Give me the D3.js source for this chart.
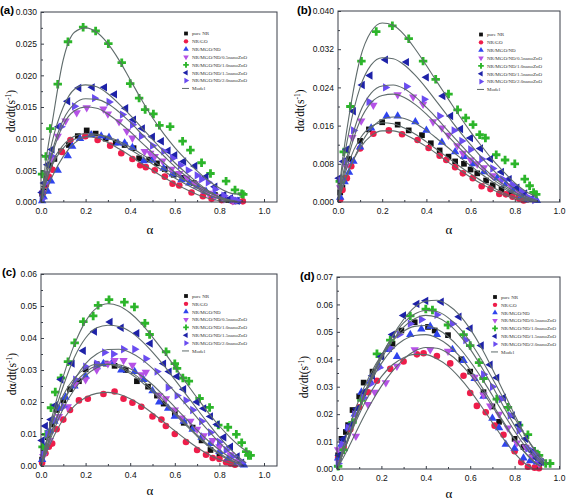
<!DOCTYPE html>
<html><head><meta charset="utf-8">
<script src="https://cdn.jsdelivr.net/npm/d3@7"></script>
<style>body{margin:0;background:#fff}svg{display:block}</style>
</head><body>
<script>
const seriesNames = ["pure NR","NR/GO","NR/MGO/ND","NR/MGO/ND/0.5nanoZnO","NR/MGO/ND/1.0nanoZnO","NR/MGO/ND/1.5nanoZnO","NR/MGO/ND/2.0nanoZnO"];
const xTicks = [0,0.2,0.4,0.6,0.8,1.0];
const aYTicks = [0,0.005,0.010,0.015,0.020,0.025,0.030];
const bYTicks = [0,0.008,0.016,0.024,0.032,0.040];
const cYTicks = [0,0.01,0.02,0.03,0.04,0.05,0.06];
const dYTicks = [0,0.01,0.02,0.03,0.04,0.05,0.06,0.07];

// ---------- panel (a) ----------
const aPoints = [
 [[0.005,0.0013],[0.012,0.0017],[0.025,0.0038],[0.04,0.0058],[0.06,0.0068],[0.09,0.0080],[0.125,0.0090],[0.165,0.0104],[0.205,0.0113],[0.245,0.0108],[0.29,0.0100],[0.335,0.0094],[0.375,0.0090],[0.415,0.0085],[0.44,0.0069],[0.485,0.0067],[0.52,0.0061],[0.555,0.0052],[0.595,0.0043],[0.635,0.0038],[0.685,0.0030],[0.73,0.0017],[0.78,0.0011],[0.81,0.0007],[0.84,0.0003],[0.87,0.0001]],
 [[0.008,0.0014],[0.022,0.0027],[0.035,0.0040],[0.052,0.0051],[0.094,0.0079],[0.132,0.0098],[0.199,0.0104],[0.254,0.0098],[0.31,0.0089],[0.36,0.0077],[0.41,0.0068],[0.445,0.0058],[0.47,0.0055],[0.51,0.0050],[0.555,0.0040],[0.59,0.0029],[0.62,0.0026],[0.675,0.0015],[0.726,0.0009],[0.765,0.0005],[0.81,0.0003],[0.86,0.0001],[0.905,0.0001]],
 [[0.005,0.0002],[0.012,0.0008],[0.03,0.0017],[0.045,0.0033],[0.075,0.0050],[0.12,0.0073],[0.14,0.0088],[0.175,0.0100],[0.225,0.0106],[0.27,0.0104],[0.305,0.0102],[0.345,0.0093],[0.375,0.0093],[0.41,0.0086],[0.46,0.0065],[0.5,0.0066],[0.55,0.0053],[0.59,0.0044],[0.63,0.0035],[0.665,0.0030],[0.7,0.0025],[0.74,0.0017],[0.78,0.0010],[0.82,0.0006],[0.86,0.0002],[0.88,0.0001]],
 [[0.01,0.0015],[0.025,0.0045],[0.05,0.0068],[0.075,0.0104],[0.11,0.0128],[0.16,0.0141],[0.205,0.0149],[0.28,0.0147],[0.3,0.0139],[0.35,0.0127],[0.385,0.0112],[0.41,0.0101],[0.465,0.0080],[0.49,0.0077],[0.51,0.0072],[0.545,0.0065],[0.585,0.0052],[0.62,0.0045],[0.655,0.0038],[0.69,0.0029],[0.72,0.0020],[0.75,0.0014],[0.78,0.0009],[0.82,0.0005],[0.86,0.0002]],
 [[0.005,0.0044],[0.022,0.0072],[0.042,0.0116],[0.075,0.0186],[0.121,0.0253],[0.189,0.0276],[0.245,0.0270],[0.302,0.0250],[0.362,0.0220],[0.40,0.0187],[0.44,0.0164],[0.467,0.0146],[0.504,0.0139],[0.531,0.0121],[0.579,0.0119],[0.635,0.0096],[0.67,0.0082],[0.72,0.0062],[0.76,0.0045],[0.83,0.0033],[0.87,0.0019],[0.9,0.0013],[0.907,0.0012]],
 [[0.005,0.0015],[0.015,0.0030],[0.03,0.0059],[0.05,0.0083],[0.08,0.0119],[0.12,0.0159],[0.17,0.0180],[0.23,0.0181],[0.285,0.0181],[0.33,0.0170],[0.38,0.0148],[0.415,0.0130],[0.455,0.0116],[0.5,0.0103],[0.54,0.0096],[0.57,0.0081],[0.6,0.0074],[0.64,0.0064],[0.69,0.0057],[0.74,0.0040],[0.78,0.0024],[0.82,0.0011],[0.85,0.0006],[0.88,0.0002]],
 [[0.005,0.0005],[0.02,0.0030],[0.045,0.0073],[0.09,0.0119],[0.15,0.0151],[0.24,0.0164],[0.305,0.0158],[0.365,0.0138],[0.41,0.0122],[0.45,0.0104],[0.5,0.0089],[0.55,0.0080],[0.59,0.0069],[0.625,0.0058],[0.66,0.0050],[0.7,0.0042],[0.72,0.0036],[0.75,0.0031],[0.78,0.0020],[0.82,0.0010],[0.86,0.0005],[0.88,0.0002]]
];
const aModel = [
 [[0,0],[0.02,0.0030],[0.05,0.0062],[0.1,0.0090],[0.15,0.0104],[0.2,0.0108],[0.25,0.0107],[0.3,0.0101],[0.35,0.0093],[0.4,0.0083],[0.45,0.0072],[0.5,0.0060],[0.55,0.0049],[0.6,0.0038],[0.65,0.0028],[0.7,0.0019],[0.75,0.0011],[0.8,0.0005],[0.85,0.0001]],
 [[0,0],[0.02,0.0028],[0.05,0.0058],[0.1,0.0085],[0.15,0.0099],[0.2,0.0103],[0.25,0.0101],[0.3,0.0094],[0.35,0.0084],[0.4,0.0073],[0.45,0.0061],[0.5,0.0050],[0.55,0.0039],[0.6,0.0029],[0.65,0.0020],[0.7,0.0012],[0.75,0.0006],[0.8,0.0002],[0.84,0.0000]],
 [[0,0],[0.02,0.0015],[0.05,0.0040],[0.1,0.0072],[0.15,0.0093],[0.2,0.0103],[0.25,0.0106],[0.3,0.0103],[0.35,0.0096],[0.4,0.0087],[0.45,0.0076],[0.5,0.0065],[0.55,0.0054],[0.6,0.0043],[0.65,0.0033],[0.7,0.0024],[0.75,0.0015],[0.8,0.0008],[0.85,0.0003],[0.88,0.0001]],
 [[0,0],[0.02,0.0035],[0.05,0.0075],[0.1,0.0122],[0.15,0.0144],[0.2,0.0150],[0.25,0.0148],[0.3,0.0139],[0.35,0.0126],[0.4,0.0111],[0.45,0.0094],[0.5,0.0078],[0.55,0.0062],[0.6,0.0047],[0.65,0.0034],[0.7,0.0022],[0.75,0.0012],[0.8,0.0005],[0.85,0.0001]],
 [[0,0],[0.02,0.0060],[0.05,0.0125],[0.1,0.0225],[0.15,0.0268],[0.2,0.0275],[0.25,0.0268],[0.3,0.0250],[0.35,0.0224],[0.4,0.0193],[0.45,0.0162],[0.5,0.0133],[0.55,0.0108],[0.6,0.0086],[0.65,0.0067],[0.7,0.0049],[0.75,0.0034],[0.8,0.0022],[0.85,0.0014],[0.9,0.0012]],
 [[0,0],[0.02,0.0045],[0.05,0.0095],[0.1,0.0150],[0.15,0.0178],[0.2,0.0185],[0.25,0.0182],[0.3,0.0171],[0.35,0.0155],[0.4,0.0137],[0.45,0.0118],[0.5,0.0099],[0.55,0.0080],[0.6,0.0062],[0.65,0.0046],[0.7,0.0031],[0.75,0.0018],[0.8,0.0008],[0.85,0.0002],[0.88,0.0000]],
 [[0,0],[0.02,0.0037],[0.05,0.0080],[0.1,0.0130],[0.15,0.0155],[0.2,0.0163],[0.25,0.0162],[0.3,0.0155],[0.35,0.0142],[0.4,0.0126],[0.45,0.0108],[0.5,0.0090],[0.55,0.0073],[0.6,0.0056],[0.65,0.0041],[0.7,0.0028],[0.75,0.0017],[0.8,0.0008],[0.85,0.0002],[0.88,0.0000]]
];

// ---------- panel (b) ----------
const bPoints = [
 [[0.01,0.0020],[0.02,0.0030],[0.035,0.0050],[0.05,0.0090],[0.1,0.0128],[0.14,0.0152],[0.2,0.0167],[0.27,0.0162],[0.32,0.0150],[0.38,0.0140],[0.42,0.0123],[0.46,0.0108],[0.5,0.0095],[0.53,0.0085],[0.57,0.0080],[0.6,0.0068],[0.63,0.0060],[0.67,0.0045],[0.7,0.0035],[0.74,0.0027],[0.78,0.0018],[0.82,0.0010],[0.85,0.0005]],
 [[0.01,0.0005],[0.02,0.0025],[0.04,0.0050],[0.06,0.0075],[0.1,0.0112],[0.16,0.0143],[0.23,0.0150],[0.29,0.0142],[0.36,0.0130],[0.41,0.0113],[0.46,0.0097],[0.49,0.0088],[0.53,0.0073],[0.565,0.0060],[0.61,0.0050],[0.65,0.0033],[0.69,0.0027],[0.73,0.0017],[0.76,0.0016],[0.79,0.0011],[0.82,0.0007],[0.84,0.0003]],
 [[0.01,0.0010],[0.03,0.0042],[0.05,0.0062],[0.07,0.0085],[0.1,0.0115],[0.15,0.0155],[0.22,0.0180],[0.27,0.0180],[0.35,0.0168],[0.4,0.0150],[0.47,0.0125],[0.53,0.0105],[0.57,0.0095],[0.61,0.0080],[0.66,0.0063],[0.72,0.0050],[0.76,0.0038],[0.79,0.0025],[0.83,0.0013],[0.86,0.0005],[0.9,0.0003]],
 [[0.01,0.0030],[0.035,0.0075],[0.065,0.0135],[0.105,0.0170],[0.16,0.0203],[0.27,0.0225],[0.34,0.0220],[0.385,0.0205],[0.43,0.0168],[0.47,0.0155],[0.5,0.0140],[0.54,0.0118],[0.565,0.0102],[0.6,0.0088],[0.63,0.0080],[0.66,0.0072],[0.7,0.0055],[0.74,0.0045],[0.78,0.0034],[0.82,0.0019],[0.86,0.0008]],
 [[0.008,0.0043],[0.026,0.0105],[0.056,0.0200],[0.106,0.0295],[0.173,0.0357],[0.246,0.0369],[0.32,0.0342],[0.385,0.0295],[0.442,0.0257],[0.5,0.0226],[0.541,0.0193],[0.578,0.0176],[0.611,0.0162],[0.641,0.0141],[0.667,0.0134],[0.716,0.0099],[0.756,0.0088],[0.8,0.0080],[0.845,0.0048],[0.867,0.0034],[0.885,0.0020],[0.897,0.0016]],
 [[0.005,0.0050],[0.025,0.0085],[0.04,0.0110],[0.07,0.0190],[0.11,0.0245],[0.145,0.0265],[0.215,0.0298],[0.31,0.0293],[0.4,0.0261],[0.475,0.0222],[0.51,0.0180],[0.555,0.0153],[0.6,0.0134],[0.645,0.0112],[0.69,0.0090],[0.74,0.0063],[0.775,0.0048],[0.81,0.0030],[0.845,0.0018],[0.875,0.0006]],
 [[0.01,0.0045],[0.03,0.0085],[0.07,0.0150],[0.14,0.0210],[0.215,0.0240],[0.31,0.0242],[0.39,0.0215],[0.46,0.0180],[0.525,0.0150],[0.56,0.0128],[0.6,0.0110],[0.65,0.0090],[0.7,0.0070],[0.745,0.0048],[0.79,0.0036],[0.83,0.0022],[0.86,0.0010],[0.89,0.0004]]
];
const bModel = [
 [[0,0],[0.02,0.0040],[0.05,0.0085],[0.1,0.0133],[0.15,0.0158],[0.2,0.0166],[0.25,0.0164],[0.3,0.0155],[0.35,0.0142],[0.4,0.0126],[0.45,0.0109],[0.5,0.0092],[0.55,0.0075],[0.6,0.0059],[0.65,0.0044],[0.7,0.0031],[0.75,0.0019],[0.8,0.0010],[0.85,0.0004],[0.88,0.0001]],
 [[0,0],[0.02,0.0030],[0.05,0.0068],[0.1,0.0113],[0.15,0.0139],[0.2,0.0149],[0.25,0.0149],[0.3,0.0142],[0.35,0.0130],[0.4,0.0116],[0.45,0.0100],[0.5,0.0083],[0.55,0.0067],[0.6,0.0052],[0.65,0.0038],[0.7,0.0026],[0.75,0.0015],[0.8,0.0007],[0.85,0.0002]],
 [[0,0],[0.02,0.0028],[0.05,0.0066],[0.1,0.0118],[0.15,0.0154],[0.2,0.0173],[0.25,0.0178],[0.3,0.0175],[0.35,0.0165],[0.4,0.0150],[0.45,0.0132],[0.5,0.0113],[0.55,0.0094],[0.6,0.0076],[0.65,0.0058],[0.7,0.0042],[0.75,0.0028],[0.8,0.0016],[0.85,0.0007],[0.9,0.0001]],
 [[0,0],[0.02,0.0045],[0.05,0.0100],[0.1,0.0170],[0.15,0.0208],[0.2,0.0223],[0.25,0.0226],[0.3,0.0219],[0.35,0.0204],[0.4,0.0184],[0.45,0.0161],[0.5,0.0137],[0.55,0.0113],[0.6,0.0090],[0.65,0.0068],[0.7,0.0048],[0.75,0.0032],[0.8,0.0018],[0.85,0.0007],[0.9,0.0001]],
 [[0,0],[0.02,0.0085],[0.05,0.0180],[0.1,0.0300],[0.15,0.0357],[0.2,0.0375],[0.25,0.0370],[0.3,0.0350],[0.35,0.0320],[0.4,0.0286],[0.45,0.0250],[0.5,0.0215],[0.55,0.0180],[0.6,0.0147],[0.65,0.0117],[0.7,0.0088],[0.75,0.0063],[0.8,0.0040],[0.85,0.0022],[0.9,0.0011]],
 [[0,0],[0.02,0.0070],[0.05,0.0148],[0.1,0.0240],[0.15,0.0287],[0.2,0.0302],[0.25,0.0300],[0.3,0.0287],[0.35,0.0265],[0.4,0.0238],[0.45,0.0208],[0.5,0.0178],[0.55,0.0148],[0.6,0.0120],[0.65,0.0093],[0.7,0.0068],[0.75,0.0046],[0.8,0.0027],[0.85,0.0012],[0.9,0.0003]],
 [[0,0],[0.02,0.0052],[0.05,0.0112],[0.1,0.0188],[0.15,0.0228],[0.2,0.0243],[0.25,0.0245],[0.3,0.0237],[0.35,0.0220],[0.4,0.0198],[0.45,0.0174],[0.5,0.0148],[0.55,0.0123],[0.6,0.0098],[0.65,0.0075],[0.7,0.0054],[0.75,0.0036],[0.8,0.0021],[0.85,0.0009],[0.9,0.0002]]
];

// ---------- panel (c) ----------
const cPoints = [
 [[0.005,0.0020],[0.015,0.0060],[0.03,0.0090],[0.05,0.0130],[0.07,0.0175],[0.1,0.0205],[0.13,0.0240],[0.17,0.0265],[0.2,0.0302],[0.25,0.0318],[0.29,0.0320],[0.33,0.0313],[0.38,0.0300],[0.43,0.0265],[0.48,0.0248],[0.52,0.0220],[0.55,0.0195],[0.6,0.0165],[0.64,0.0135],[0.68,0.0120],[0.72,0.0080],[0.76,0.0050],[0.8,0.0030],[0.84,0.0015],[0.87,0.0008]],
 [[0.005,0.0010],[0.02,0.0040],[0.035,0.0060],[0.05,0.0070],[0.07,0.0115],[0.1,0.0145],[0.13,0.0175],[0.17,0.0205],[0.21,0.0210],[0.28,0.0225],[0.33,0.0233],[0.37,0.0210],[0.41,0.0198],[0.45,0.0185],[0.5,0.0155],[0.54,0.0145],[0.56,0.0125],[0.6,0.0100],[0.65,0.0075],[0.7,0.0050],[0.74,0.0035],[0.77,0.0025],[0.8,0.0022],[0.83,0.0012],[0.85,0.0008],[0.87,0.0004]],
 [[0.005,0.0020],[0.02,0.0060],[0.04,0.0110],[0.06,0.0140],[0.08,0.0180],[0.11,0.0215],[0.15,0.0250],[0.2,0.0280],[0.25,0.0310],[0.28,0.0320],[0.32,0.0325],[0.36,0.0300],[0.42,0.0295],[0.46,0.0270],[0.5,0.0235],[0.53,0.0200],[0.57,0.0180],[0.6,0.0155],[0.64,0.0140],[0.68,0.0115],[0.72,0.0090],[0.76,0.0070],[0.8,0.0045],[0.84,0.0025],[0.88,0.0010],[0.91,0.0003]],
 [[0.01,0.0030],[0.04,0.0080],[0.08,0.0155],[0.12,0.0185],[0.155,0.0255],[0.2,0.0270],[0.25,0.0300],[0.3,0.0320],[0.33,0.0330],[0.37,0.0330],[0.41,0.0315],[0.45,0.0285],[0.47,0.0293],[0.53,0.0220],[0.56,0.0210],[0.6,0.0175],[0.63,0.0150],[0.67,0.0140],[0.7,0.0115],[0.73,0.0095],[0.77,0.0080],[0.8,0.0060],[0.85,0.0035],[0.88,0.0015]],
 [[0.007,0.0060],[0.022,0.0099],[0.045,0.0182],[0.064,0.0231],[0.09,0.0275],[0.121,0.0326],[0.151,0.0385],[0.19,0.0451],[0.234,0.0469],[0.256,0.0502],[0.305,0.0520],[0.374,0.0512],[0.419,0.0497],[0.466,0.0446],[0.487,0.0411],[0.561,0.0357],[0.6,0.0320],[0.61,0.0305],[0.636,0.0275],[0.663,0.0265],[0.711,0.0211],[0.756,0.0183],[0.795,0.0128],[0.838,0.0121],[0.876,0.0099],[0.9,0.0073],[0.92,0.0045],[0.93,0.0033],[0.94,0.0033]],
 [[0.005,0.0080],[0.02,0.0125],[0.045,0.0145],[0.065,0.0190],[0.09,0.0270],[0.14,0.0320],[0.19,0.0360],[0.24,0.0420],[0.31,0.0450],[0.36,0.0432],[0.43,0.0415],[0.49,0.0383],[0.55,0.0320],[0.575,0.0295],[0.61,0.0280],[0.64,0.0240],[0.7,0.0200],[0.73,0.0180],[0.76,0.0155],[0.79,0.0130],[0.82,0.0090],[0.85,0.0060],[0.88,0.0030],[0.9,0.0010]],
 [[0.01,0.0040],[0.03,0.0100],[0.06,0.0145],[0.1,0.0185],[0.155,0.0270],[0.2,0.0310],[0.25,0.0320],[0.285,0.0355],[0.325,0.0350],[0.37,0.0365],[0.42,0.0365],[0.47,0.0335],[0.52,0.0295],[0.57,0.0245],[0.61,0.0220],[0.65,0.0205],[0.68,0.0175],[0.72,0.0140],[0.76,0.0105],[0.8,0.0075],[0.83,0.0050],[0.86,0.0030],[0.9,0.0010]]
];
const cModel = [
 [[0,0],[0.02,0.0060],[0.05,0.0135],[0.1,0.0222],[0.15,0.0275],[0.2,0.0305],[0.25,0.0318],[0.3,0.0318],[0.35,0.0308],[0.4,0.0289],[0.45,0.0263],[0.5,0.0232],[0.55,0.0198],[0.6,0.0162],[0.65,0.0127],[0.7,0.0093],[0.75,0.0062],[0.8,0.0036],[0.85,0.0016],[0.9,0.0004]],
 [[0,0],[0.02,0.0035],[0.05,0.0082],[0.1,0.0146],[0.15,0.0188],[0.2,0.0214],[0.25,0.0227],[0.3,0.0230],[0.35,0.0224],[0.4,0.0210],[0.45,0.0190],[0.5,0.0165],[0.55,0.0138],[0.6,0.0110],[0.65,0.0083],[0.7,0.0058],[0.75,0.0037],[0.8,0.0020],[0.85,0.0008],[0.88,0.0002]],
 [[0,0],[0.02,0.0048],[0.05,0.0112],[0.1,0.0200],[0.15,0.0257],[0.2,0.0293],[0.25,0.0313],[0.3,0.0318],[0.35,0.0312],[0.4,0.0295],[0.45,0.0270],[0.5,0.0240],[0.55,0.0205],[0.6,0.0168],[0.65,0.0132],[0.7,0.0097],[0.75,0.0066],[0.8,0.0040],[0.85,0.0019],[0.9,0.0005]],
 [[0,0],[0.02,0.0040],[0.05,0.0098],[0.1,0.0180],[0.15,0.0240],[0.2,0.0282],[0.25,0.0307],[0.3,0.0318],[0.35,0.0316],[0.4,0.0304],[0.45,0.0282],[0.5,0.0254],[0.55,0.0220],[0.6,0.0184],[0.65,0.0148],[0.7,0.0112],[0.75,0.0079],[0.8,0.0050],[0.85,0.0026],[0.9,0.0008]],
 [[0,0],[0.02,0.0065],[0.05,0.0155],[0.1,0.0280],[0.15,0.0380],[0.2,0.0452],[0.25,0.0494],[0.3,0.0507],[0.35,0.0500],[0.4,0.0478],[0.45,0.0445],[0.5,0.0403],[0.55,0.0358],[0.6,0.0310],[0.65,0.0261],[0.7,0.0213],[0.75,0.0167],[0.8,0.0125],[0.85,0.0088],[0.9,0.0057],[0.93,0.0043]],
 [[0,0],[0.02,0.0058],[0.05,0.0140],[0.1,0.0250],[0.15,0.0340],[0.2,0.0400],[0.25,0.0432],[0.3,0.0440],[0.35,0.0436],[0.4,0.0420],[0.45,0.0392],[0.5,0.0356],[0.55,0.0315],[0.6,0.0270],[0.65,0.0224],[0.7,0.0178],[0.75,0.0133],[0.8,0.0090],[0.85,0.0052],[0.9,0.0020],[0.92,0.0010]],
 [[0,0],[0.02,0.0045],[0.05,0.0110],[0.1,0.0200],[0.15,0.0270],[0.2,0.0320],[0.25,0.0350],[0.3,0.0364],[0.35,0.0365],[0.4,0.0355],[0.45,0.0334],[0.5,0.0305],[0.55,0.0270],[0.6,0.0232],[0.65,0.0192],[0.7,0.0151],[0.75,0.0111],[0.8,0.0073],[0.85,0.0040],[0.9,0.0014]]
];

// ---------- panel (d) ----------
const dPoints = [
 [[0.005,0.0050],[0.02,0.0110],[0.04,0.0135],[0.05,0.0160],[0.07,0.0215],[0.1,0.0265],[0.12,0.0315],[0.16,0.0355],[0.2,0.0412],[0.25,0.0457],[0.29,0.0505],[0.35,0.0535],[0.41,0.0518],[0.44,0.0505],[0.5,0.0488],[0.56,0.0400],[0.6,0.0355],[0.66,0.0280],[0.7,0.0228],[0.73,0.0172],[0.8,0.0110],[0.84,0.0080],[0.88,0.0045],[0.91,0.0020]],
 [[0.005,0.0040],[0.03,0.0080],[0.06,0.0145],[0.1,0.0225],[0.14,0.0280],[0.18,0.0322],[0.24,0.0365],[0.3,0.0392],[0.36,0.0418],[0.39,0.0422],[0.45,0.0412],[0.51,0.0385],[0.57,0.0340],[0.6,0.0277],[0.63,0.0230],[0.67,0.0207],[0.71,0.0158],[0.75,0.0125],[0.8,0.0065],[0.83,0.0025],[0.86,0.0008],[0.89,0.0005],[0.91,0.0003]],
 [[0.005,0.0040],[0.02,0.0090],[0.05,0.0150],[0.08,0.0200],[0.11,0.0280],[0.15,0.0320],[0.19,0.0375],[0.23,0.0435],[0.27,0.0410],[0.33,0.0490],[0.38,0.0510],[0.42,0.0520],[0.45,0.0490],[0.52,0.0435],[0.57,0.0395],[0.62,0.0330],[0.66,0.0265],[0.7,0.0185],[0.73,0.0150],[0.76,0.0090],[0.8,0.0075],[0.84,0.0040],[0.87,0.0030],[0.9,0.0025]],
 [[0.005,0.0070],[0.03,0.0090],[0.085,0.0120],[0.14,0.0235],[0.17,0.0280],[0.22,0.0315],[0.27,0.0375],[0.35,0.0435],[0.42,0.0435],[0.5,0.0430],[0.62,0.0335],[0.66,0.0270],[0.69,0.0230],[0.73,0.0200],[0.77,0.0150],[0.81,0.0095],[0.85,0.0080],[0.88,0.0045],[0.91,0.0020]],
 [[0.005,0.0010],[0.03,0.0070],[0.07,0.0170],[0.11,0.0250],[0.18,0.0420],[0.24,0.0470],[0.33,0.0558],[0.4,0.0583],[0.43,0.0580],[0.5,0.0525],[0.57,0.0490],[0.6,0.0450],[0.64,0.0388],[0.66,0.0330],[0.72,0.0255],[0.77,0.0225],[0.82,0.0160],[0.86,0.0125],[0.89,0.0065],[0.91,0.0050],[0.94,0.0020],[0.96,0.0020]],
 [[0.01,0.0050],[0.03,0.0110],[0.06,0.0160],[0.09,0.0220],[0.12,0.0280],[0.16,0.0340],[0.2,0.0410],[0.25,0.0490],[0.3,0.0560],[0.36,0.0602],[0.4,0.0613],[0.47,0.0610],[0.55,0.0555],[0.6,0.0512],[0.65,0.0450],[0.69,0.0380],[0.72,0.0333],[0.75,0.0260],[0.79,0.0195],[0.82,0.0160],[0.85,0.0110],[0.88,0.0063],[0.9,0.0040],[0.92,0.0025]],
 [[0.005,0.0020],[0.02,0.0090],[0.05,0.0150],[0.08,0.0200],[0.12,0.0260],[0.15,0.0310],[0.19,0.0370],[0.24,0.0440],[0.28,0.0490],[0.33,0.0530],[0.38,0.0545],[0.45,0.0562],[0.52,0.0530],[0.58,0.0470],[0.66,0.0345],[0.7,0.0300],[0.74,0.0255],[0.78,0.0195],[0.82,0.0140],[0.86,0.0075],[0.89,0.0055],[0.91,0.0035]]
];
const dModel = [
 [[0,0],[0.05,0.0140],[0.1,0.0255],[0.15,0.0345],[0.2,0.0415],[0.25,0.0467],[0.3,0.0502],[0.35,0.0520],[0.4,0.0523],[0.45,0.0510],[0.5,0.0483],[0.55,0.0443],[0.6,0.0392],[0.65,0.0333],[0.7,0.0268],[0.75,0.0202],[0.8,0.0138],[0.85,0.0080],[0.9,0.0035],[0.93,0.0015]],
 [[0,0],[0.05,0.0105],[0.1,0.0200],[0.15,0.0278],[0.2,0.0337],[0.25,0.0380],[0.3,0.0406],[0.35,0.0418],[0.4,0.0417],[0.45,0.0402],[0.5,0.0375],[0.55,0.0335],[0.6,0.0286],[0.65,0.0229],[0.7,0.0169],[0.75,0.0110],[0.8,0.0058],[0.85,0.0018],[0.88,0.0003]],
 [[0,0],[0.05,0.0115],[0.1,0.0225],[0.15,0.0315],[0.2,0.0385],[0.25,0.0437],[0.3,0.0470],[0.35,0.0487],[0.4,0.0490],[0.45,0.0478],[0.5,0.0452],[0.55,0.0413],[0.6,0.0362],[0.65,0.0302],[0.7,0.0237],[0.75,0.0172],[0.8,0.0110],[0.85,0.0058],[0.9,0.0020],[0.92,0.0010]],
 [[0,0],[0.05,0.0075],[0.1,0.0158],[0.15,0.0235],[0.2,0.0302],[0.25,0.0357],[0.3,0.0400],[0.35,0.0430],[0.4,0.0443],[0.45,0.0440],[0.5,0.0422],[0.55,0.0389],[0.6,0.0344],[0.65,0.0289],[0.7,0.0228],[0.75,0.0166],[0.8,0.0107],[0.85,0.0056],[0.9,0.0018],[0.92,0.0008]],
 [[0,0],[0.05,0.0110],[0.1,0.0225],[0.15,0.0330],[0.2,0.0415],[0.25,0.0482],[0.3,0.0533],[0.35,0.0565],[0.4,0.0578],[0.45,0.0574],[0.5,0.0552],[0.55,0.0515],[0.6,0.0463],[0.65,0.0400],[0.7,0.0330],[0.75,0.0257],[0.8,0.0185],[0.85,0.0118],[0.9,0.0062],[0.95,0.0020]],
 [[0,0],[0.05,0.0105],[0.1,0.0215],[0.15,0.0320],[0.2,0.0410],[0.25,0.0485],[0.3,0.0545],[0.35,0.0590],[0.4,0.0612],[0.45,0.0615],[0.5,0.0598],[0.55,0.0563],[0.6,0.0510],[0.65,0.0443],[0.7,0.0365],[0.75,0.0282],[0.8,0.0198],[0.85,0.0120],[0.9,0.0055],[0.93,0.0025]],
 [[0,0],[0.05,0.0108],[0.1,0.0218],[0.15,0.0318],[0.2,0.0402],[0.25,0.0468],[0.3,0.0517],[0.35,0.0548],[0.4,0.0560],[0.45,0.0553],[0.5,0.0530],[0.55,0.0490],[0.6,0.0437],[0.65,0.0373],[0.7,0.0302],[0.75,0.0228],[0.8,0.0158],[0.85,0.0095],[0.9,0.0043],[0.93,0.0020]]
];

// ---------- styling ----------
const colors = ["#111111","#ee1d4a","#2f44ee","#b552e6","#2cb52a","#1e22a8","#6a4cf0"];
const shapes = ["square","circle","up","down","cross","left","right"];
const modelColor = "#5f6b6b";

const panels = [
 {label:"(a)", pts:aPoints, model:aModel, yTicks:aYTicks, fmt:".3f", L:41, R:277, X1:264, T:12, B:202, lab:[0,14], ytx:15, ax:[150,234], leg:[186,33.5]},
 {label:"(b)", pts:bPoints, model:bModel, yTicks:bYTicks, fmt:".3f", L:338, R:560, X1:559, T:11, B:202, lab:[297,14], ytx:304, ax:[449,234], leg:[481,34.5]},
 {label:"(c)", pts:cPoints, model:cModel, yTicks:cYTicks, fmt:".2f", L:41, R:277, X1:264, T:274, B:466, lab:[2,276], ytx:16, ax:[150,495], leg:[186,296]},
 {label:"(d)", pts:dPoints, model:dModel, yTicks:dYTicks, fmt:".2f", L:337, R:560, X1:559, T:277, B:469, lab:[300,280], ytx:308, ax:[449,498], leg:[495,297]}
];

const svg = d3.select("body").append("svg").attr("width",567).attr("height",504)
  .style("font-family","Arial, 'Liberation Sans', sans-serif");

function marker(g, shape, x, y, s, color){
  const types = {square:d3.symbolSquare,circle:d3.symbolCircle,cross:d3.symbolCross,
    up:d3.symbolTriangle,down:d3.symbolTriangle,left:d3.symbolTriangle,right:d3.symbolTriangle};
  const rot = {down:180,left:-90,right:90}[shape]||0;
  const size = shape==="square"? s*0.9 : shape==="circle"? s*0.95 : shape==="cross"? s*1.1 : s*0.85;
  g.append("path").attr("d", d3.symbol().type(types[shape]).size(size)())
   .attr("transform",`translate(${x},${y}) rotate(${rot})`).attr("fill",color);
}

panels.forEach(p=>{
  const g = svg.append("g");
  const yMax = p.yTicks[p.yTicks.length-1];
  const x = d3.scaleLinear().domain([0,1]).range([p.L,p.X1]);
  const y = d3.scaleLinear().domain([0,yMax]).range([p.B,p.T]);

  // points
  const pg = g.append("g");
  p.pts.forEach((ser,i)=>{
    ser.forEach(d=>marker(pg, shapes[i], x(d[0]), y(d[1]), 36, colors[i]));
  });
  // model curves
  const line = d3.line().x(d=>x(d[0])).y(d=>y(d[1])).curve(d3.curveMonotoneX);
  p.model.forEach(m=>{
    g.append("path").attr("d",line(m)).attr("fill","none").attr("stroke",modelColor).attr("stroke-width",1.1);
  });

  // frame
  g.append("rect").attr("x",p.L).attr("y",p.T).attr("width",p.R-p.L).attr("height",p.B-p.T)
   .attr("fill","none").attr("stroke","#3a3f48").attr("stroke-width",1);

  // x axis (ticks inward)
  g.append("g").attr("transform",`translate(0,${p.B})`)
    .call(d3.axisBottom(x).tickValues(xTicks).tickFormat(d3.format(".1f")).tickSize(-3).tickSizeOuter(0).tickPadding(6));
  g.append("g").attr("transform",`translate(0,${p.B})`)
    .call(d3.axisBottom(x).tickValues([0.1,0.3,0.5,0.7,0.9]).tickFormat("").tickSize(-2).tickSizeOuter(0));
  // y axis
  g.append("g").attr("transform",`translate(${p.L},0)`)
    .call(d3.axisLeft(y).tickValues(p.yTicks).tickFormat(d3.format(p.fmt)).tickSize(-3).tickSizeOuter(0).tickPadding(4));
  const st = p.yTicks[1]-p.yTicks[0];
  g.append("g").attr("transform",`translate(${p.L},0)`)
    .call(d3.axisLeft(y).tickValues(p.yTicks.slice(0,-1).map(v=>v+st/2)).tickFormat("").tickSize(-2).tickSizeOuter(0));
  g.selectAll(".domain").remove();
  g.selectAll(".tick line").attr("stroke","#3a3f48");
  g.selectAll(".tick text").attr("font-size",8.5).attr("fill","#111").attr("font-family","Arial, 'Liberation Sans', sans-serif");

  // titles
  g.append("text").attr("x",p.ax[0]).attr("y",p.ax[1]).attr("text-anchor","middle")
   .attr("font-family","'Liberation Serif','Times New Roman',serif").attr("font-size",13).text("α");
  const yt = g.append("text").attr("transform",`translate(${p.ytx},${(p.T+p.B)/2+4}) rotate(-90)`)
   .attr("text-anchor","middle").attr("font-family","'Liberation Serif','Times New Roman',serif").attr("font-size",11.5);
  yt.append("tspan").text("dα/dt(s");
  yt.append("tspan").attr("font-size",7.5).attr("dy",-4).text("-1");
  yt.append("tspan").attr("dy",4).text(")");
  g.append("text").attr("x",p.lab[0]).attr("y",p.lab[1]).attr("font-weight","bold").attr("font-size",11.5)
   .attr("font-family","Arial, 'Liberation Sans', sans-serif").text(p.label);

  // legend
  const lg = g.append("g").attr("font-family","'Liberation Serif','Times New Roman',serif").attr("font-size",5).attr("fill","#333");
  const step = 7.85;
  seriesNames.forEach((n,i)=>{
    const yy = p.leg[1]+i*step;
    marker(lg, shapes[i], p.leg[0], yy, 16, colors[i]);
    lg.append("text").attr("x",p.leg[0]+6).attr("y",yy+1.8).text(n);
  });
  const ym = p.leg[1]+7*step;
  lg.append("line").attr("x1",p.leg[0]-4).attr("x2",p.leg[0]+3).attr("y1",ym).attr("y2",ym).attr("stroke",modelColor);
  lg.append("text").attr("x",p.leg[0]+6).attr("y",ym+1.8).text("Model");
});
</script>
</body></html>
